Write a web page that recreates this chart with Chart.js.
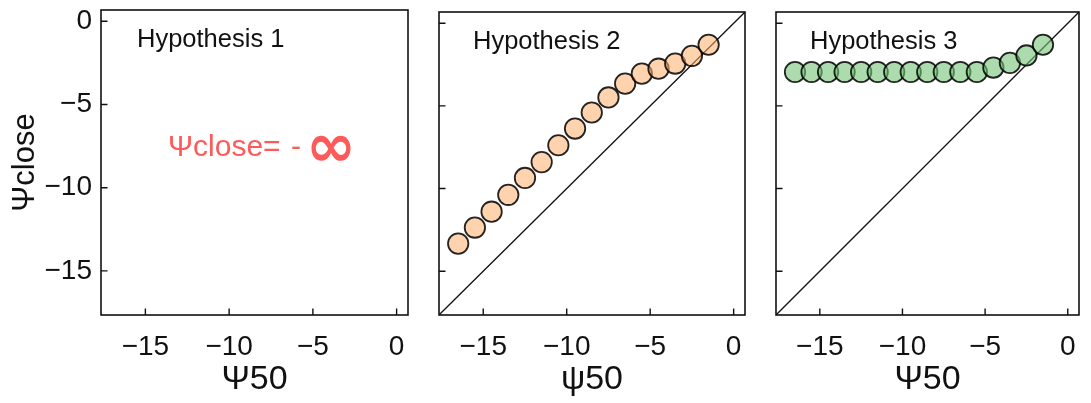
<!DOCTYPE html>
<html><head><meta charset="utf-8">
<script src="https://cdn.jsdelivr.net/npm/chart.js@4.4.0/dist/chart.umd.min.js"></script>
<style>
html,body{margin:0;padding:0;background:#fff;}
#wrap{position:relative;width:1091px;height:403px;overflow:hidden;background:#fff;}
canvas{position:absolute;top:0;}
</style></head><body>
<div id="wrap">
<canvas id="c1" width="420" height="403" style="left:0px"></canvas>
<canvas id="c2" width="340" height="403" style="left:420px"></canvas>
<canvas id="c3" width="331" height="403" style="left:760px"></canvas>
</div>
<script>
// ---- data ----
const psi50 = [-16.5, -15.5, -14.5, -13.5, -12.5, -11.5, -10.5, -9.5, -8.5, -7.5, -6.5, -5.5, -4.5, -3.5, -2.5, -1.5];
const hyp2Close = [-13.33, -12.36, -11.4, -10.38, -9.36, -8.4, -7.38, -6.37, -5.4, -4.49, -3.65, -3.05, -2.75, -2.44, -1.97, -1.3];
const hyp3Close = [-2.95, -2.95, -2.95, -2.95, -2.95, -2.95, -2.95, -2.95, -2.95, -2.95, -2.95, -2.95, -2.68, -2.4, -1.95, -1.3];
const tickValues = [-15, -10, -5, 0];
const axisRange = [-17.65, 0.68];
const panelLabels = ['Hypothesis 1', 'Hypothesis 2', 'Hypothesis 3'];
const xTitles = ['Ψ50', 'ψ50', 'Ψ50'];
const yTitle = 'Ψclose';
const hyp1Note = ['Ψclose=', '-', '∞'];

const FONT = "'Liberation Sans', Arial, sans-serif";

function fmtTick(v){ return v < 0 ? '\u2212' + Math.abs(v) : String(v); }

function panelPlugin(idx, labelOffset){
  return {
    id: 'panelDecor' + idx,
    afterDraw(chart){
      const ctx = chart.ctx;
      const a = chart.chartArea;
      const xs = chart.scales.x, ys = chart.scales.y;
      ctx.save();
      ctx.strokeStyle = '#111';
      ctx.lineWidth = 1.6;
      ctx.strokeRect(a.left, a.top, a.right - a.left, a.bottom - a.top);
      ctx.lineWidth = 1.4;
      ctx.beginPath();
      tickValues.forEach(v => {
        const px = xs.getPixelForValue(v);
        ctx.moveTo(px, a.bottom); ctx.lineTo(px, a.bottom - 6.5);
        const py = ys.getPixelForValue(v);
        ctx.moveTo(a.left, py); ctx.lineTo(a.left + 6.5, py);
      });
      ctx.stroke();
      // panel label
      ctx.fillStyle = '#111';
      ctx.font = '25.5px ' + FONT;
      ctx.textAlign = 'left';
      ctx.textBaseline = 'alphabetic';
      ctx.fillText(panelLabels[idx], a.left + labelOffset, a.top + 37);
      if (idx === 0) {
        ctx.fillStyle = '#ff5a5a';
        ctx.font = '30px ' + FONT;
        const x0 = a.left + 67, y0 = a.top + 146;
        ctx.fillText(hyp1Note[0], x0, y0);
        ctx.fillText(hyp1Note[1], a.left + 190, y0);
        ctx.font = "bold 60px 'DejaVu Sans', sans-serif";
        ctx.fillText(hyp1Note[2], a.left + 205, y0 + 10);
      }
      ctx.restore();
    }
  };
}

function makeChart(id, idx, opts){
  const datasets = [];
  if (opts.values) {
    datasets.push({
      type: 'scatter',
      data: psi50.map((x, i) => ({x: x, y: opts.values[i]})),
      pointRadius: 10.2,
      pointHoverRadius: 10.2,
      pointBackgroundColor: opts.fill,
      pointBorderColor: 'rgba(0,0,0,0.85)',
      pointBorderWidth: 1.8
    });
  }
  if (opts.diag) {
    datasets.push({
      type: 'line',
      data: [{x: axisRange[0], y: axisRange[0]}, {x: axisRange[1], y: axisRange[1]}],
      borderColor: '#111',
      borderWidth: 1.3,
      pointRadius: 0,
      fill: false
    });
  }
  if (!datasets.length) {
    datasets.push({type: 'scatter', data: [], pointRadius: 0});
  }
  return new Chart(document.getElementById(id), {
    type: 'scatter',
    data: { datasets },
    options: {
      responsive: false,
      animation: false,
      events: [],
      layout: { padding: { top: 10, right: opts.padRight, left: 0, bottom: 0 } },
      plugins: { legend: { display: false }, tooltip: { enabled: false } },
      scales: {
        x: {
          type: 'linear', min: axisRange[0], max: axisRange[1],
          afterBuildTicks: s => { s.ticks = tickValues.map(v => ({value: v})); },
          afterFit: s => { s.height = 88; s.paddingLeft = 0; s.paddingRight = 0; },
          grid: { display: false, drawTicks: false },
          border: { display: false },
          ticks: { color: '#111', font: { family: FONT, size: 28 }, padding: 15, callback: fmtTick, maxRotation: 0, autoSkip: false },
          title: { display: true, text: xTitles[idx], color: '#111', font: { family: FONT, size: 34 }, padding: { top: 0, bottom: 3 } }
        },
        y: {
          type: 'linear', min: axisRange[0], max: axisRange[1],
          afterBuildTicks: s => { s.ticks = tickValues.map(v => ({value: v})); },
          afterFit: s => { s.width = opts.yWidth; s.paddingTop = 0; s.paddingBottom = 0; },
          grid: { display: false, drawTicks: false },
          border: { display: false },
          ticks: { display: opts.yLabels, color: '#111', font: { family: FONT, size: 28 }, padding: 9, callback: fmtTick, autoSkip: false },
          title: { display: opts.yLabels, text: yTitle, color: '#111', font: { family: FONT, size: 31 }, padding: { top: 7, bottom: 0 } }
        }
      }
    },
    plugins: [panelPlugin(idx, opts.labelOffset)]
  });
}

makeChart('c1', 0, { values: null, diag: false, yWidth: 101, padRight: 12, yLabels: true, labelOffset: 36 });
makeChart('c2', 1, { values: hyp2Close, fill: 'rgba(253,174,107,0.55)', diag: true, yWidth: 19, padRight: 15, yLabels: false, labelOffset: 34 });
makeChart('c3', 2, { values: hyp3Close, fill: 'rgba(116,196,118,0.6)', diag: true, yWidth: 16, padRight: 9, yLabels: false, labelOffset: 34 });
</script>
</body></html>
